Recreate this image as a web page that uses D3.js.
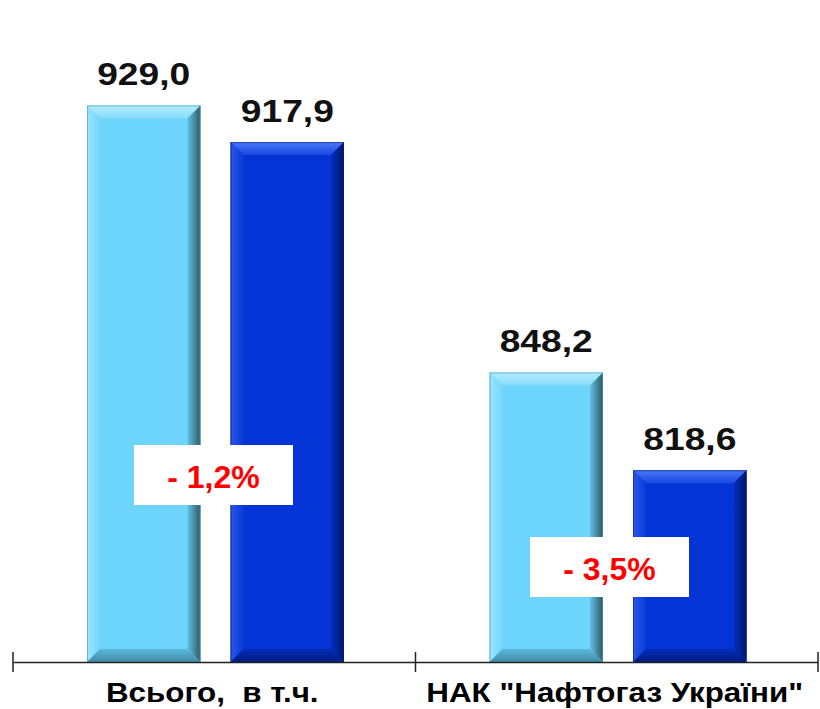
<!DOCTYPE html>
<html><head><meta charset="utf-8">
<script src="https://cdn.jsdelivr.net/npm/d3@7"></script>
<style>body{margin:0;background:#fff}svg{display:block}text{font-family:"Liberation Sans",Arial,sans-serif;font-weight:bold}</style>
</head><body><svg id="c" width="820" height="709"></svg>
<script>
const categories = ["Всього,  в т.ч.", "НАК \"Нафтогаз України\""];
const series = ["2008", "2009"];
const values2008 = [929.0, 848.2];
const values2009 = [917.9, 818.6];
const valueLabels2008 = ["929,0", "848,2"];
const valueLabels2009 = ["917,9", "818,6"];
const changeLabels = ["- 1,2%", "- 3,5%"];

const svg = d3.select("#c");
const baseY = 662;
const x0 = d3.scaleBand().domain(categories).range([13, 818]).paddingInner(0).paddingOuter(0);
const x1 = d3.scaleBand().domain(series).range([74, 331]).paddingInner(0.21).paddingOuter(0);
const y = d3.scaleLinear().domain([760, 950]).range([664, 36]);

const defs = svg.append("defs");
function grad(id, x1_, y1_, x2_, y2_, stops){
  const g = defs.append("linearGradient").attr("id", id)
    .attr("x1", x1_).attr("y1", y1_).attr("x2", x2_).attr("y2", y2_);
  stops.forEach(s => g.append("stop").attr("offset", s[0]).attr("stop-color", s[1]));
}
const pal = {
  "2008": {main:"#6dd5fb", top:["#b4ecfe","#86dcfb"], left:["#9fe3fc","#74d6fa"], right:["#62c2e4","#2e5866"], bottom:["#5cb9da","#3f8aa6"]},
  "2009": {main:"#0434d6", top:["#4a78f6","#1847e2"], left:["#2b58e8","#0838d8"], right:["#0330c4","#001566"], bottom:["#022cb8","#011c82"]}
};
Object.entries(pal).forEach(([k,p])=>{
  grad("t"+k,0,0,0,1,[[0,p.top[0]],[1,p.top[1]]]);
  grad("l"+k,0,0,1,0,[[0,p.left[0]],[1,p.left[1]]]);
  grad("r"+k,0,0,1,0,[[0,p.right[0]],[1,p.right[1]]]);
  grad("b"+k,0,0,0,1,[[0,p.bottom[0]],[1,p.bottom[1]]]);
});

const data = [];
categories.forEach((c,i)=>{
  data.push({cat:c, s:"2008", v:values2008[i], lab:valueLabels2008[i]});
  data.push({cat:c, s:"2009", v:values2009[i], lab:valueLabels2009[i]});
});

const bev = 13;
data.forEach(d=>{
  const xl = x0(d.cat) + x1(d.s), xr = xl + x1.bandwidth();
  const yt = y(d.v), yb = baseY;
  const g = svg.append("g");
  g.append("rect").attr("x", xl).attr("y", yt).attr("width", xr-xl).attr("height", yb-yt).attr("fill", pal[d.s].main);
  const pts = a => a.map(p=>p.join(",")).join(" ");
  g.append("polygon").attr("points", pts([[xl,yt],[xr,yt],[xr-bev,yt+bev],[xl+bev,yt+bev]])).attr("fill", "url(#t"+d.s+")");
  g.append("polygon").attr("points", pts([[xl,yt],[xl+bev,yt+bev],[xl+bev,yb-bev],[xl,yb]])).attr("fill", "url(#l"+d.s+")");
  g.append("polygon").attr("points", pts([[xr,yt],[xr,yb],[xr-bev,yb-bev],[xr-bev,yt+bev]])).attr("fill", "url(#r"+d.s+")");
  g.append("polygon").attr("points", pts([[xl,yb],[xl+bev,yb-bev],[xr-bev,yb-bev],[xr,yb]])).attr("fill", "url(#b"+d.s+")");
  g.append("rect").attr("x", xl+0.5).attr("y", yt+0.5).attr("width", xr-xl-1).attr("height", yb-yt-1)
    .attr("fill","none").attr("stroke", d.s==="2008" ? "#4a9ab8" : "#02227e").attr("stroke-width",1).attr("opacity",0.6);
  svg.append("text").attr("transform", `translate(${(xl+xr)/2},${yt-20}) scale(1.2,1)`).attr("text-anchor","middle")
    .attr("font-size", 31).attr("fill","#111").text(d.lab);
});

// axis
const axis = d3.axisBottom(x0).tickSize(0).tickFormat("");
const ag = svg.append("g").attr("transform", `translate(0,${baseY})`).call(axis);
ag.select(".domain").attr("stroke","#222").attr("stroke-width",1.5);
const tickXs = categories.map(c=>x0(c)).concat([x0(categories[categories.length-1]) + x0.bandwidth()]);
svg.selectAll(".tk").data(tickXs).enter().append("line")
  .attr("x1", d=>d).attr("x2", d=>d).attr("y1", baseY-10).attr("y2", baseY+10)
  .attr("stroke","#222").attr("stroke-width",1.5);
svg.selectAll(".cl").data(categories).enter().append("text")
  .attr("transform", d=>`translate(${x0(d)+x0.bandwidth()/2 - 2},702) scale(1.12,1)`).attr("text-anchor","middle")
  .attr("font-size", 28).attr("fill","#000").attr("xml:space","preserve").style("white-space","pre").text(d=>d);

// change boxes
const boxPos = [{cx:213.5, cy:475}, {cx:609.5, cy:567}];
changeLabels.forEach((t,i)=>{
  const b = boxPos[i];
  svg.append("rect").attr("x", b.cx-79.5).attr("y", b.cy-30).attr("width",159).attr("height",60).attr("fill","#fff");
  svg.append("text").attr("x", b.cx).attr("y", b.cy+13).attr("text-anchor","middle")
    .attr("font-size", 32).attr("fill","#ff0000").text(t);
});
</script></body></html>
